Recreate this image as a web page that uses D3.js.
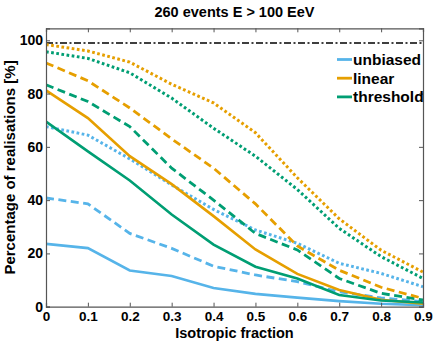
<!DOCTYPE html>
<html><head><meta charset="utf-8">
<script src="https://cdn.jsdelivr.net/npm/d3@7"></script>
<style>body{margin:0;background:#fff}svg{display:block}text{font-family:"Liberation Sans",Arial,sans-serif;font-weight:bold}</style>
</head><body><svg id="c" width="436" height="341"></svg>
<script>
const xs = [0,0.1,0.2,0.3,0.4,0.5,0.6,0.7,0.8,0.9];
const xTicks = [0,0.1,0.2,0.3,0.4,0.5,0.6,0.7,0.8,0.9];
const yTicks = [0,20,40,60,80,100];
const refLine = 99;
const unbiasedSolid  = [23.6,22,13.6,11.5,7,4.8,3.4,2.1,1.1,0.6];
const unbiasedDashed = [40.8,38.6,27.5,21.9,15.2,11.9,9.4,5.6,3.3,1.9];
const unbiasedDotted = [67.6,64.4,55.5,45.7,36.5,28.8,23.8,16.3,12.5,7.5];
const linearSolid    = [81.2,70.8,56.5,46,34,21.5,12.3,6.3,2.6,1.1];
const linearDashed   = [91.5,84.8,74.6,63,52,38.6,22.8,13.7,7.3,3.1];
const linearDotted   = [98.4,96,91.8,83.5,76.5,65.3,48.4,33,21.2,13];
const thresholdSolid = [69.5,58.3,47.4,34.6,23.3,15,10.6,4.4,2.3,1.6];
const thresholdDashed= [83.3,77,67.6,52,40,27.5,21.3,10.6,5,2.5];
const thresholdDotted= [95.7,93.2,87.8,78.3,67,56.5,44,29.4,18.8,10.6];
const legendNames = ["unbiased","linear","threshold"];
const colors = {unbiased:"#56B4E9", linear:"#E69F00", threshold:"#009E73"};

const series = [
  {name:"unbiased", style:"dotted", v:unbiasedDotted},
  {name:"threshold", style:"dotted", v:thresholdDotted},
  {name:"linear", style:"dotted", v:linearDotted},
  {name:"unbiased", style:"dashed", v:unbiasedDashed},
  {name:"threshold", style:"dashed", v:thresholdDashed},
  {name:"linear", style:"dashed", v:linearDashed},
  {name:"unbiased", style:"solid", v:unbiasedSolid},
  {name:"linear", style:"solid", v:linearSolid},
  {name:"threshold", style:"solid", v:thresholdSolid}
];
const dash = {solid:null, dashed:"8,4.5", dotted:"2.7,2.5"};
const widths = {solid:2.6, dashed:2.8, dotted:3};

const L=46, R=423, T=28.3, B=306.7;
const svg = d3.select("#c");
const x = d3.scaleLinear().domain([0,0.9]).range([L,R]);
const y = d3.scaleLinear().domain([0,104.5]).range([B,T]);

const g = svg.append("g");
svg.append("clipPath").attr("id","cp").append("rect").attr("x",L).attr("y",T).attr("width",R-L).attr("height",B-T);

g.append("line").attr("x1",x(0)).attr("x2",x(0.9)).attr("y1",y(refLine)).attr("y2",y(refLine))
 .attr("stroke","#000").attr("stroke-width",1.4).attr("stroke-dasharray","7,2.5,2,2.5");

const line = d3.line().x((d,i)=>x(xs[i])).y(d=>y(d));
const lg = svg.append("g").attr("clip-path","url(#cp)");
series.forEach(s=>{
  lg.append("path").attr("d",line(s.v)).attr("fill","none")
    .attr("stroke",colors[s.name]).attr("stroke-width",widths[s.style])
    .attr("stroke-dasharray",dash[s.style]);
});

const axC = "#555";
const ax = svg.append("g");
const xb = ax.append("g").attr("transform",`translate(0,${B})`)
  .call(d3.axisBottom(x).tickValues(xTicks).tickSize(-4).tickPadding(5).tickFormat(d=>d===0?"0":d3.format(".1f")(d)));
ax.append("g").attr("transform",`translate(0,${T})`)
  .call(d3.axisTop(x).tickValues(xTicks).tickSize(-4).tickFormat(""));
const yl = ax.append("g").attr("transform",`translate(${L},0)`)
  .call(d3.axisLeft(y).tickValues(yTicks).tickSize(-4).tickPadding(3));
ax.append("g").attr("transform",`translate(${R},0)`)
  .call(d3.axisRight(y).tickValues(yTicks).tickSize(-4).tickFormat(""));
ax.selectAll(".domain").attr("stroke",axC).attr("stroke-width",1.2);
ax.selectAll(".tick line").attr("stroke",axC);
ax.selectAll(".tick text").attr("fill","#000").attr("font-weight","bold")
  .attr("font-family","'Liberation Sans',Arial,sans-serif");
xb.selectAll(".tick text").attr("font-size",13.5);
yl.selectAll(".tick text").attr("font-size",14);

svg.append("text").attr("x",(L+R)/2).attr("y",17).attr("text-anchor","middle")
  .attr("font-size",14.5).text("260 events E > 100 EeV");
svg.append("text").attr("x",(L+R)/2).attr("y",338).attr("text-anchor","middle")
  .attr("font-size",14.5).text("Isotropic fraction");
svg.append("text").attr("transform",`translate(15,${(T+B)/2}) rotate(-90)`).attr("text-anchor","middle")
  .attr("font-size",15).text("Percentage of realisations [%]");

const leg = svg.append("g");
legendNames.forEach((n,i)=>{
  const yy = 59.5 + i*18.7;
  leg.append("line").attr("x1",337).attr("x2",352).attr("y1",yy).attr("y2",yy)
    .attr("stroke",colors[n]).attr("stroke-width",2.8);
  leg.append("text").attr("x",353).attr("y",yy+5.5).attr("font-size",15.5).text(n);
});
</script></body></html>
